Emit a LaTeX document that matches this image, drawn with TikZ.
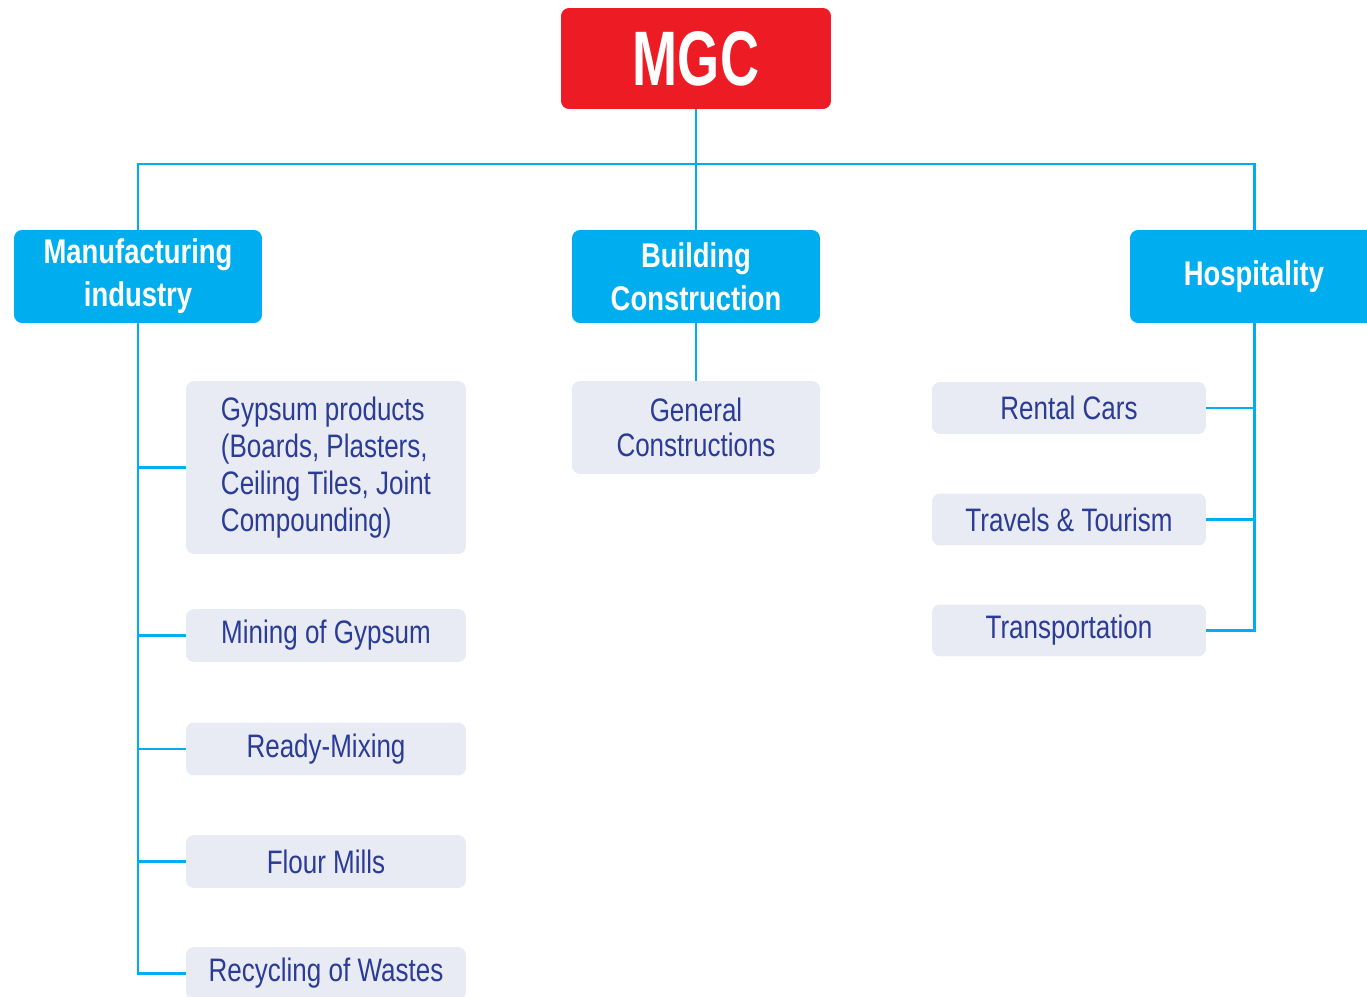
\documentclass[tikz,border=0pt]{standalone}
\usepackage{fontspec}
\usepackage{tikz}
\setmainfont{Liberation Sans}
\newfontfamily\condfont[FakeStretch=0.8]{Liberation Sans}
\newfontfamily\logofont[FakeStretch=0.7]{Liberation Sans}
\definecolor{mgcred}{HTML}{ED1C24}
\definecolor{mgccyan}{HTML}{00AEEF}
\definecolor{mgcgrey}{HTML}{E8EAF4}
\definecolor{mgcnavy}{HTML}{2B3C96}
\tikzset{
	head/.style={fill=mgccyan, rounded corners=0.16cm, text=white, align=center,
		minimum width=4.96cm, minimum height=1.86cm,
		font=\condfont\bfseries\fontsize{19.5}{24.4}\selectfont},
	item/.style={fill=mgcgrey, rounded corners=0.16cm, text=mgcnavy, align=center,
		minimum height=1.06cm, font=\condfont\fontsize{18.5}{21}\selectfont},
	link/.style={draw=mgccyan, line width=1.7pt}
}

\begin{document}
\begin{tikzpicture}[x=0.02cm, y=-0.02cm]
	\useasboundingbox (0,0) rectangle (1367,997);
	\node[fill=mgcred, rounded corners=0.16cm, text=white, minimum width=5.4cm,
		minimum height=2.02cm, font=\logofont\bfseries\fontsize{44}{44}\selectfont]
		(mgc) at (696,58.5) {MGC};
	\node[head] (mfg) at (138,276.5) {Manufacturing\\industry};
	\node[head] (bld) at (696,276.5) {Building\\Construction};
	\node[head] (hosp) at (1254,276.5) {Hospitality};
	\draw[link] (mgc) -- (bld);
	\draw[link] (mfg) |- (696,164) -| (hosp);

	\node[item, minimum width=5.6cm, minimum height=3.46cm, align=left] (gyp) at (326,467.5)
		{Gypsum products\\(Boards, Plasters,\\Ceiling Tiles, Joint\\Compounding)};
	\node[item, minimum width=5.6cm] (mine) at (326,635.5) {Mining of Gypsum};
	\node[item, minimum width=5.6cm] (ready) at (326,749) {Ready-Mixing};
	\node[item, minimum width=5.6cm] (flour) at (326,861.5) {Flour Mills};
	\node[item, minimum width=5.6cm] (recyc) at (326,973.5) {Recycling of Wastes};
	\foreach \n in {gyp,mine,ready,flour,recyc}
		\draw[link] (mfg) |- (\n.west);

	\node[item, minimum width=4.96cm, minimum height=1.86cm, font=\condfont\fontsize{18.5}{20}\selectfont]
		(gen) at (696,427.5) {General\\Constructions};
	\draw[link] (bld) -- (gen);

	\node[item, minimum width=5.48cm, minimum height=1.04cm] (cars) at (1069,408) {Rental Cars};
	\node[item, minimum width=5.48cm, minimum height=1.04cm] (tour) at (1069,519.5) {Travels \& Tourism};
	\node[item, minimum width=5.48cm, minimum height=1.04cm] (trans) at (1069,630.5) {Transportation};
	\foreach \n in {cars,tour,trans}
		\draw[link] (hosp) |- (\n.east);
\end{tikzpicture}
\end{document}
